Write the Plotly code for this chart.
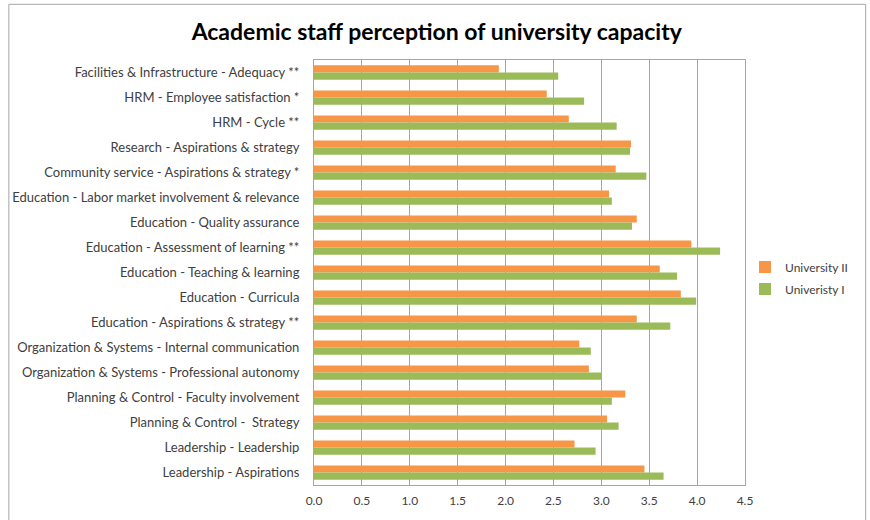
import plotly.graph_objects as go

categories = [
    "Facilities & Infrastructure - Adequacy **",
    "HRM - Employee satisfaction *",
    "HRM - Cycle **",
    "Research - Aspirations & strategy",
    "Community service - Aspirations & strategy *",
    "Education - Labor market involvement & relevance",
    "Education - Quality assurance",
    "Education - Assessment of learning **",
    "Education - Teaching & learning",
    "Education - Curricula",
    "Education - Aspirations & strategy **",
    "Organization & Systems - Internal communication",
    "Organization & Systems - Professional autonomy",
    "Planning & Control - Faculty involvement",
    "Planning & Control -  Strategy",
    "Leadership - Leadership",
    "Leadership - Aspirations",
]
univ_2 = [1.93, 2.43, 2.66, 3.31, 3.15, 3.08, 3.37, 3.94, 3.61, 3.83, 3.37, 2.77, 2.87, 3.25, 3.06, 2.72, 3.45]
univ_1 = [2.55, 2.82, 3.16, 3.30, 3.47, 3.11, 3.32, 4.24, 3.79, 3.99, 3.72, 2.89, 3.00, 3.11, 3.18, 2.94, 3.65]
x_ticks = [0.0, 0.5, 1.0, 1.5, 2.0, 2.5, 3.0, 3.5, 4.0, 4.5]
x_tick_text = ["0.0", "0.5", "1.0", "1.5", "2.0", "2.5", "3.0", "3.5", "4.0", "4.5"]

FONT = "Lato"
TXT = "#404040"

fig = go.Figure()
fig.add_trace(go.Bar(y=categories, x=univ_2, orientation="h", name="University II",
                     legendgroup="u2",
                     marker=dict(color="#F79646", line=dict(width=0))))
fig.add_trace(go.Bar(y=categories, x=univ_1, orientation="h", name="Univeristy I",
                     legendgroup="u1",
                     marker=dict(color="#9BBB59", line=dict(width=0))))

fig.update_layout(
    width=870, height=520,
    margin=dict(l=313, r=125, t=60, b=33),
    paper_bgcolor="white", plot_bgcolor="white",
    barmode="group", bargap=0.43, bargroupgap=0.0,
    title=dict(text="<b>Academic staff perception of university capacity</b>",
               x=0.502, xanchor="center", y=0.938, yanchor="middle",
               font=dict(family=FONT, size=23, color="#000000")),
    font=dict(family=FONT, size=13, color=TXT),
    legend=dict(x=1.0, xanchor="left", y=0.487, yanchor="middle",
                font=dict(family=FONT, size=12, color=TXT),
                itemwidth=30, tracegroupgap=3, bgcolor="rgba(0,0,0,0)"),
    xaxis=dict(range=[0, 4.5], tickvals=x_ticks, ticktext=x_tick_text,
               showgrid=True, gridcolor="#A6A6A6", gridwidth=1,
               showline=True, linecolor="#A6A6A6", mirror=True, zeroline=False,
               ticks="", ticklabelstandoff=5,
               tickfont=dict(family=FONT, size=12, color=TXT)),
    yaxis=dict(autorange="reversed", showgrid=False, showline=True,
               linecolor="#A6A6A6", mirror=True, ticks="", ticklabelstandoff=11,
               tickfont=dict(family=FONT, size=13, color=TXT)),
    shapes=[dict(type="rect", xref="paper", yref="paper",
                 x0=-0.708, x1=1.28, y0=-0.2, y1=1.131,
                 line=dict(color="#A6A6A6", width=1), layer="below")],
)

fig.write_html("out.html")
